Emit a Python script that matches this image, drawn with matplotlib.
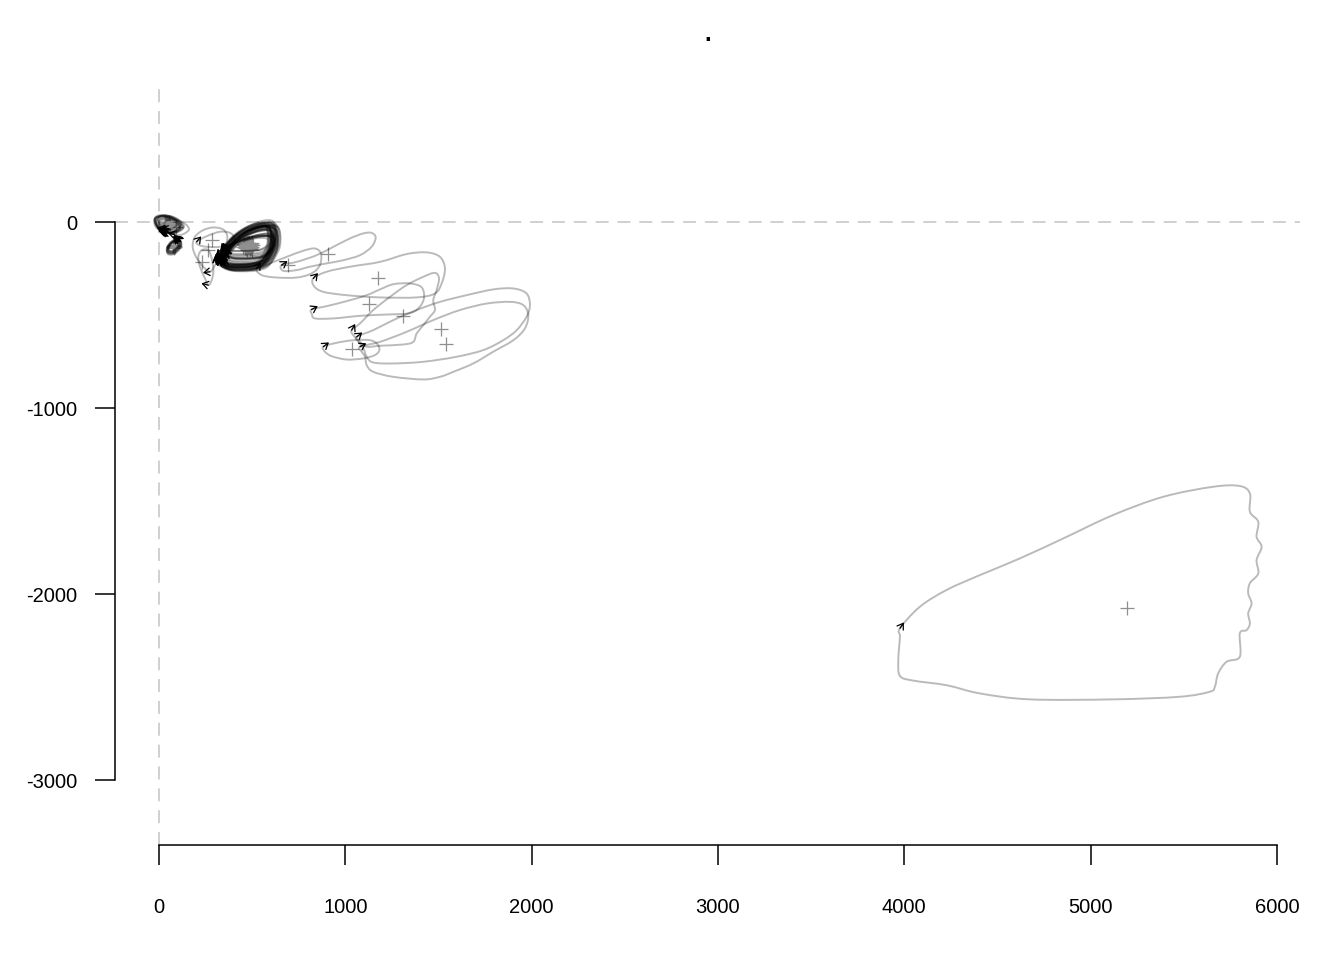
import numpy as np
import matplotlib
matplotlib.use("Agg")
import matplotlib.pyplot as plt
from matplotlib.path import Path
from matplotlib.patches import PathPatch

plt.rcParams['font.family'] = ['Liberation Sans', 'DejaVu Sans']

# ---------------- data (outline coordinates, data units) ----------------
# large specimen
big_x = [3977, 4084, 4227, 4406, 4621, 4853, 5121, 5390, 5658, 5801, 5855, 5855, 5900, 5891, 5918, 5891,
         5900, 5855, 5846, 5864, 5846, 5855, 5837, 5801, 5801, 5730, 5685, 5667, 5640, 5479, 5121, 4674,
         4406, 4227, 4048, 3977, 3968, 3977]
big_y = [-2184, -2068, -1978, -1898, -1808, -1701, -1575, -1477, -1423, -1419, -1459, -1557, -1611, -1692,
         -1746, -1817, -1889, -1942, -1996, -2050, -2104, -2158, -2194, -2211, -2337, -2364, -2426, -2498,
         -2525, -2552, -2566, -2566, -2534, -2490, -2465, -2440, -2355, -2230]
big_c = [5195, -2075]

# medium specimens
a_x = [658, 739, 846, 936, 1025, 1097, 1141, 1163, 1141, 1079, 989, 900, 810, 739, 667]
a_y = [-231, -214, -178, -133, -88, -61, -58, -83, -133, -178, -205, -222, -240, -258, -262]
a_c = [909, -169]

b_x = [524, 596, 685, 775, 837, 869, 864, 819, 739, 631, 551]
b_y = [-249, -222, -187, -154, -142, -169, -231, -276, -298, -298, -285]
b_c = [694, -231]

c_x = [828, 900, 1025, 1186, 1329, 1437, 1508, 1535, 1517, 1481, 1383, 1186, 1007, 882, 832]
c_y = [-303, -267, -240, -214, -172, -163, -187, -249, -330, -384, -405, -405, -393, -375, -344]
c_c = [1177, -298]

d_x = [819, 900, 1007, 1115, 1186, 1258, 1347, 1410, 1422, 1392, 1338, 1222, 1079, 936, 837, 821]
d_y = [-470, -452, -425, -393, -362, -334, -330, -351, -411, -464, -491, -497, -504, -518, -518, -495]
d_c = [1129, -443]

e_x = [1034, 1079, 1150, 1240, 1329, 1419, 1481, 1503, 1490, 1472, 1481, 1454, 1419, 1383, 1365, 1311,
       1186, 1115, 1079, 1043]
e_y = [-581, -545, -473, -402, -339, -294, -273, -303, -366, -420, -473, -509, -554, -599, -644, -658,
       -665, -670, -644, -608]
e_c = [1311, -506]

f_x = [1061, 1150, 1258, 1383, 1508, 1651, 1794, 1902, 1973, 1991, 1973, 1920, 1848, 1741, 1598, 1419,
       1258, 1150, 1115, 1097, 1070]
f_y = [-617, -581, -527, -473, -429, -393, -362, -357, -384, -446, -509, -581, -635, -688, -724, -751,
       -760, -755, -724, -679, -644]
f_c = [1512, -577]

g_x = [1079, 1186, 1329, 1472, 1615, 1759, 1884, 1955, 1982, 1964, 1902, 1794, 1687, 1580, 1508, 1419,
       1258, 1150, 1115, 1106, 1088]
g_y = [-670, -644, -590, -527, -473, -438, -429, -446, -500, -572, -635, -697, -760, -805, -832, -846,
       -832, -805, -769, -724, -697]
g_c = [1538, -658]

h_x = [882, 954, 1043, 1132, 1172, 1183, 1159, 1097, 1007, 927, 891]
h_y = [-670, -649, -635, -635, -656, -688, -715, -733, -739, -721, -697]
h_c = [1038, -683]

# small grey specimens near the dense cluster
s1_x = [202, 256, 327, 381, 402, 390, 327, 256, 216]
s1_y = [-106, -76, -52, -58, -83, -115, -133, -133, -124]
s1_c = [283, -97]

s2_x = [274, 238, 199, 181, 193, 238, 292, 345, 367, 354, 327, 301]
s2_y = [-267, -240, -187, -133, -79, -43, -29, -40, -79, -133, -187, -231]
s2_c = [265, -151]

s3_x = [265, 247, 220, 211, 229, 265, 283, 292, 283]
s3_y = [-339, -303, -240, -187, -151, -151, -196, -258, -312]
s3_c = [229, -213]

# dense cluster: typical outline (relative to specimen centroid) and specimens
clu_tx = [-170, -143, -89, -18, 54, 116, 152, 165, 161, 134, 98, 36, -54, -125]
clu_ty = [-99, -36, 36, 90, 122, 134, 122, 72, 0, -63, -108, -129, -134, -129]
clu_cx = [470, 480, 460, 495, 475, 455, 500, 485, 465, 490, 470, 505, 450, 478, 488,
          462, 472, 498, 482, 468, 458, 492, 476, 486, 466, 474, 484, 462,
          480, 492, 470, 500, 486, 476, 494, 482, 488, 472, 496, 484]
clu_cy = [-130, -120, -140, -125, -150, -118, -135, -110, -128, -145, -138, -122, -132, -115, -140,
          -126, -112, -148, -133, -142, -124, -118, -136, -129, -121, -146, -126, -134,
          -125, -118, -132, -110, -128, -122, -138, -115, -130, -120, -135, -126]
clu_sx = [0.85, 0.90, 0.80, 0.88, 0.82, 0.78, 0.92, 0.86, 0.84, 0.90, 0.80, 0.87, 0.83, 0.89, 0.81,
          0.86, 0.88, 0.84, 0.90, 0.79, 0.85, 0.87, 0.83, 0.91, 0.82, 0.86, 0.80, 0.88,
          0.80, 0.78, 0.84, 0.76, 0.82, 0.74, 0.80, 0.72, 0.78, 0.70, 0.76, 0.74]
clu_sy = [0.82, 0.88, 0.78, 0.92, 0.80, 0.84, 0.86, 0.90, 0.76, 0.85, 0.88, 0.80, 0.86, 0.82, 0.90,
          0.78, 0.84, 0.87, 0.81, 0.89, 0.83, 0.79, 0.86, 0.84, 0.88, 0.80, 0.85, 0.82,
          0.62, 0.55, 0.48, 0.66, 0.42, 0.36, 0.58, 0.30, 0.50, 0.26, 0.45, 0.38]

# tiny specimens next to the origin
b1_tx = [-5, -35, -58, -62, -30, 15, 55, 75, 50, 20]
b1_ty = [-45, -35, -10, 25, 40, 35, 15, -15, -38, -48]
b1_cx = [40, 48, 35, 55, 45, 38, 52, 60, 44, 30, 50, 90]
b1_cy = [-5, -12, 2, -8, -18, -10, 0, -15, -6, -2, -20, -25]
b1_s = [0.95, 1.00, 0.90, 1.05, 0.92, 1.00, 0.88, 0.95, 1.02, 0.85, 0.80, 0.95]

b2_tx = [32, 10, -18, -35, -32, -10, 18, 35]
b2_ty = [32, 35, 18, -10, -32, -35, -18, 10]
b2_cx = [80, 84, 76, 82, 78, 86, 74, 80]
b2_cy = [-132, -128, -136, -138, -124, -134, -130, -126]
b2_s = [1.00, 0.92, 0.95, 1.05, 0.88, 0.96, 0.90, 0.80]

# axes
x_ticks = [0, 1000, 2000, 3000, 4000, 5000, 6000]
y_ticks = [0, -1000, -2000, -3000]
title_text = "."

# ---------------- figure ----------------
W, H = 1344, 960
fig = plt.figure(figsize=(W / 100, H / 100), dpi=100)
ax = fig.add_axes([115 / W, 1 - 845 / H, (1300 - 115) / W, (845 - 85) / H])
ax.set_xlim(-236, 6124)
ax.set_ylim(-3349, 737)

dash = (0, (8.5, 5.8))
ax.axhline(0, color='#c4c4c4', lw=1.1, linestyle=dash, zorder=1)
ax.axvline(0, color='#c4c4c4', lw=1.1, linestyle=dash, zorder=1)


def smooth_closed_path(xs, ys):
    """Closed Catmull-Rom curve through the outline points, as cubic Bezier segments."""
    P = np.column_stack([xs, ys]).astype(float)
    n = len(P)
    verts = [P[0]]
    codes = [Path.MOVETO]
    for i in range(n):
        p0, p1, p2, p3 = P[(i - 1) % n], P[i], P[(i + 1) % n], P[(i + 2) % n]
        verts += [p1 + (p2 - p0) / 6.0, p2 - (p3 - p1) / 6.0, p2]
        codes += [Path.CURVE4] * 3
    return Path(verts, codes)


def draw_outline(xs, ys, c, cross=True):
    xs = np.asarray(xs, float)
    ys = np.asarray(ys, float)
    patch = PathPatch(smooth_closed_path(xs, ys), facecolor='none', edgecolor='black',
                      alpha=0.27, lw=1.4, joinstyle='round', zorder=3)
    ax.add_patch(patch)
    if cross:
        ax.plot([c[0]], [c[1]], marker='+', ms=10, mew=0.9, color='#8f8f8f', zorder=2)
    x0, y0 = xs[0], ys[0]
    dx, dy = xs[1] - xs[-1], ys[1] - ys[-1]
    n = np.hypot(dx, dy)
    L = 38.0
    ax.annotate('', xy=(x0 + dx / n * L, y0 + dy / n * L), xytext=(x0, y0),
                arrowprops=dict(arrowstyle='->,head_length=0.45,head_width=0.3', lw=0.9,
                                color='black', shrinkA=0, shrinkB=0, mutation_scale=9),
                zorder=4)


# big and medium specimens
for xs, ys, c in [(big_x, big_y, big_c), (a_x, a_y, a_c), (b_x, b_y, b_c), (c_x, c_y, c_c),
                  (d_x, d_y, d_c), (e_x, e_y, e_c), (f_x, f_y, f_c), (g_x, g_y, g_c),
                  (h_x, h_y, h_c), (s1_x, s1_y, s1_c), (s2_x, s2_y, s2_c), (s3_x, s3_y, s3_c)]:
    draw_outline(xs, ys, c)

# dense cluster
tx, ty = np.array(clu_tx), np.array(clu_ty)
for cx, cy, sx, sy in zip(clu_cx, clu_cy, clu_sx, clu_sy):
    draw_outline(cx + tx * sx, cy + ty * sy, (cx, cy))

# tiny specimens
tx, ty = np.array(b1_tx), np.array(b1_ty)
for cx, cy, s in zip(b1_cx, b1_cy, b1_s):
    draw_outline(cx + tx * s, cy + ty * s, (cx, cy))
tx, ty = np.array(b2_tx), np.array(b2_ty)
for cx, cy, s in zip(b2_cx, b2_cy, b2_s):
    draw_outline(cx + tx * s, cy + ty * s, (cx, cy))

# axes styling (R-like)
for side in ['top', 'right']:
    ax.spines[side].set_visible(False)
ax.spines['left'].set_bounds(y_ticks[-1], y_ticks[0])
ax.spines['bottom'].set_bounds(x_ticks[0], x_ticks[-1])
for side in ['left', 'bottom']:
    ax.spines[side].set_linewidth(1.1)
ax.set_xticks(x_ticks)
ax.set_xticklabels([str(v) for v in x_ticks])
ax.set_yticks(y_ticks)
ax.set_yticklabels([str(v) for v in y_ticks])
ax.tick_params(axis='both', direction='out', length=14.4, width=1.1, labelsize=14.5, colors='black')
ax.tick_params(axis='x', pad=24)
ax.tick_params(axis='y', pad=13)

fig.text((115 + 1300) / 2 / W, 1 - 41 / H, title_text, ha='center', va='baseline',
         fontsize=17, fontweight='bold')

fig.savefig('out.png', dpi=100)
